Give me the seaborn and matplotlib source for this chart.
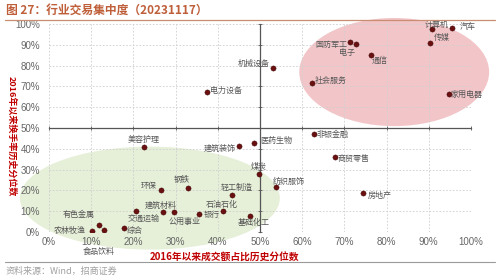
import matplotlib
matplotlib.use("Agg")
import matplotlib.pyplot as plt
import seaborn as sns
import pandas as pd
from matplotlib.patches import Ellipse
from matplotlib.lines import Line2D

sns.set_theme(style="white")
plt.rcParams['font.family'] = ['Noto Sans CJK SC', 'DejaVu Sans']
plt.rcParams['axes.unicode_minus'] = False

industries = ["汽车", "计算机", "传媒", "国防军工", "电子", "通信", "机械设备", "社会服务",
              "家用电器", "非银金融", "医药生物", "电力设备", "美容护理", "建筑装饰", "煤炭",
              "环保", "钢铁", "轻工制造", "纺织服饰", "商贸零售", "房地产", "建筑材料",
              "交通运输", "公用事业", "银行", "石油石化", "基础化工", "综合", "有色金属",
              "农林牧渔", "食品饮料"]
turnover_share_pct = [95.4, 90.7, 90.2, 71.3, 72.7, 76.2, 53.0, 62.3,
                      94.9, 62.8, 48.6, 37.5, 22.6, 45.1, 49.8,
                      26.6, 32.9, 43.3, 53.8, 67.7, 74.5, 26.9,
                      20.6, 29.6, 35.6, 41.3, 47.6, 17.8, 11.8,
                      10.1, 13.0]
turnover_rate_pct = [97.9, 97.5, 91.0, 91.3, 90.5, 85.2, 78.7, 71.5,
                     66.3, 47.0, 43.0, 67.3, 41.0, 41.5, 28.0,
                     20.2, 21.3, 17.8, 21.8, 35.9, 18.6, 9.5,
                     10.1, 9.5, 8.8, 10.1, 7.7, 2.1, 3.4,
                     0.6, 0.8]
tick_values = [0, 10, 20, 30, 40, 50, 60, 70, 80, 90, 100]
tick_labels = [f"{v}%" for v in tick_values]

df = pd.DataFrame({"industry": industries, "x": turnover_share_pct, "y": turnover_rate_pct})

# label offsets in pixels (dx, dy, ha)
label_offsets = {
    "汽车": (8, 2, "left"), "计算机": (5, 5, "center"), "传媒": (4, 5, "left"),
    "国防军工": (-3, -2, "right"), "电子": (-1, -9, "right"), "通信": (1, -6, "left"),
    "机械设备": (-3, 5, "right"), "社会服务": (3, 3, "left"), "家用电器": (1, 0, "left"),
    "非银金融": (2, 0, "left"), "医药生物": (6, 2, "left"), "电力设备": (3, 2, "left"),
    "美容护理": (-1, 7, "center"), "建筑装饰": (-4, -3, "right"), "煤炭": (0, 7, "center"),
    "环保": (-5, 4, "right"), "钢铁": (-6, 8, "center"), "轻工制造": (5, 8, "center"),
    "纺织服饰": (-3, 5, "left"), "商贸零售": (3, -2, "left"), "房地产": (4, -2, "left"),
    "建筑材料": (-2, 7, "center"), "交通运输": (8, -8, "center"), "公用事业": (11, -9, "center"),
    "银行": (4, -1, "left"), "石油石化": (-1, 6, "center"), "基础化工": (4, -7, "center"),
    "综合": (3, -3, "left"), "有色金属": (-20, 10, "center"), "农林牧渔": (-6, 0, "right"),
    "食品饮料": (-5, -21, "center"),
}

fig = plt.figure(figsize=(5, 2.8), dpi=100)
ax = fig.add_axes([49 / 500, 1 - 232 / 280, 422 / 500, 208 / 280])
ax.set_xlim(0, 100)
ax.set_ylim(0, 100)

# background ellipses
ax.add_patch(Ellipse((81.8, 76.9), 45.0, 52.0, facecolor="#F2C6C9", edgecolor="none",
                     zorder=0, clip_on=False))
ax.add_patch(Ellipse((23.9, 16.3), 61.6, 49.5, facecolor="#E6EFD8", edgecolor="none",
                     zorder=0, clip_on=False))

ax.set_axisbelow(True)
ax.grid(True, color="#cfcfcf", linestyle=(0, (2, 2)), linewidth=0.6)

sns.scatterplot(data=df, x="x", y="y", ax=ax, color="#6a1010", s=14,
                edgecolor="#3a0505", linewidth=0.3, zorder=3, legend=False)

for name, xv, yv in zip(industries, turnover_share_pct, turnover_rate_pct):
    dx, dy, ha = label_offsets[name]
    ax.annotate(name, (xv, yv), xytext=(dx, dy), textcoords="offset pixels",
                ha=ha, va="center", fontsize=5.8, color="#555555", zorder=4)

# spines crossing at 50% / 50%
for s in ["top", "right"]:
    ax.spines[s].set_visible(False)
ax.spines["left"].set_position(("data", 50))
ax.spines["bottom"].set_position(("data", 50))
for s in ["left", "bottom"]:
    ax.spines[s].set_color("#555555")
    ax.spines[s].set_linewidth(0.9)
    ax.spines[s].set_zorder(2)
ax.set_xticks(tick_values)
ax.set_yticks(tick_values)
ax.tick_params(axis="both", which="both", direction="inout", length=3, width=0.6,
               color="#555555", labelbottom=False, labelleft=False, bottom=True, left=True)
ax.set_xlabel("")
ax.set_ylabel("")

secx = ax.secondary_xaxis(0)
secx.set_xticks(tick_values, tick_labels)
secx.spines["bottom"].set_visible(False)
secx.tick_params(length=0, pad=3.5, labelsize=7, labelcolor="#666666")
secy = ax.secondary_yaxis(0)
secy.set_yticks(tick_values, tick_labels)
secy.spines["left"].set_visible(False)
secy.tick_params(length=0, pad=6.5, labelsize=7, labelcolor="#666666")
for lab in secx.get_xticklabels() + secy.get_yticklabels():
    lab.set_family(["Liberation Sans", "DejaVu Sans"])

# axis titles
fig.text(225 / 500, 1 - 257 / 280, "2016年以来成交额占比历史分位数", ha="center", va="center",
         fontsize=7, fontweight="bold", color="#C00000")
fig.text(12 / 500, 1 - 136 / 280, "2016年以来换手率历史分位数", ha="center", va="center",
         rotation=270, fontsize=6.5, fontweight="bold", color="#C00000")

# title and source
fig.text(6 / 500, 1 - 10 / 280, "图 27：行业交易集中度（20231117）", ha="left", va="center",
         fontsize=8.5, fontweight="bold", color="#BF5F3A")
fig.add_artist(Line2D([5 / 500, 495 / 500], [1 - 19.5 / 280, 1 - 19.5 / 280],
                      color="#C98E72", linewidth=0.9))
fig.add_artist(Line2D([5 / 500, 495 / 500], [1 - 262 / 280, 1 - 262 / 280],
                      color="#9a9a9a", linewidth=0.8))
fig.text(6 / 500, 1 - 271 / 280, "资料来源：Wind，招商证券", ha="left", va="center",
         fontsize=6.5, color="#a0a0a0")

fig.savefig("out.png", dpi=100)
